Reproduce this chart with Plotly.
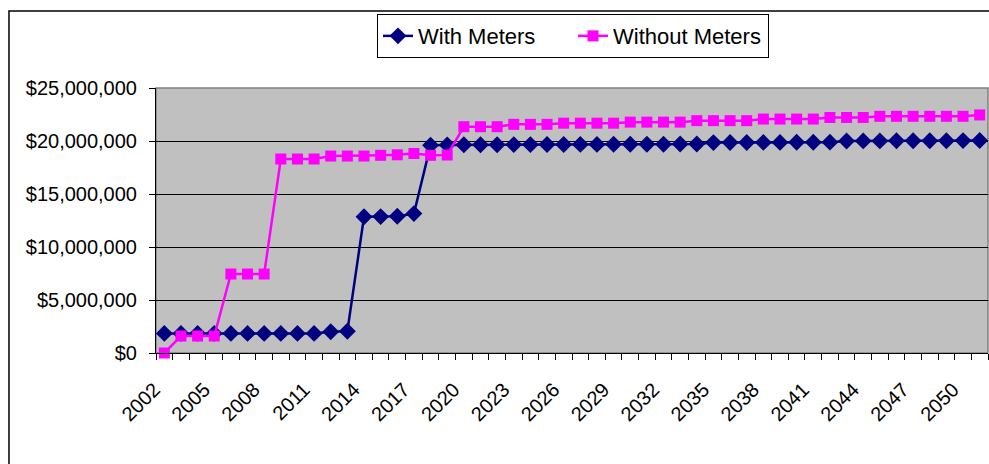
import plotly.graph_objects as go

years = list(range(2002, 2052))

with_meters = [
    1.85, 1.85, 1.85, 1.85, 1.85, 1.85, 1.85, 1.85, 1.85, 1.85,   # 2002-2011
    2.00, 2.05,                                                   # 2012-2013
    12.85, 12.87, 12.90, 13.15,                                   # 2014-2017
    19.60, 19.62,                                                 # 2018-2019
    19.64, 19.65, 19.65, 19.66, 19.66, 19.67, 19.67, 19.68,       # 2020-2027
    19.68, 19.69, 19.69, 19.70, 19.70, 19.71, 19.72,              # 2028-2034
    19.85, 19.86, 19.86, 19.87, 19.87, 19.88, 19.88, 19.89,       # 2035-2042
    20.00, 20.01, 20.01, 20.02, 20.02, 20.03, 20.03, 20.04, 20.05 # 2043-2051
]

without_meters = [
    0.00,                                                         # 2002
    1.60, 1.60, 1.60,                                             # 2003-2005
    7.45, 7.45, 7.45,                                             # 2006-2008
    18.30, 18.30, 18.30,                                          # 2009-2011
    18.58, 18.58, 18.58,                                          # 2012-2014
    18.65, 18.70, 18.82,                                          # 2015-2017
    18.65, 18.68,                                                 # 2018-2019
    21.35, 21.35, 21.35,                                          # 2020-2022
    21.57, 21.57, 21.57,                                          # 2023-2025
    21.68, 21.68, 21.68, 21.68,                                   # 2026-2029
    21.78, 21.78, 21.78, 21.78,                                   # 2030-2033
    21.92, 21.92, 21.92, 21.92,                                   # 2034-2037
    22.07, 22.07, 22.07, 22.07,                                   # 2038-2041
    22.22, 22.22, 22.22,                                          # 2042-2044
    22.33, 22.33, 22.33, 22.33, 22.33, 22.33,                     # 2045-2050
    22.46                                                         # 2051
]

tick_years = years[::3]
tick_labels = [str(y) for y in tick_years]
y_ticks = [0, 5e6, 10e6, 15e6, 20e6, 25e6]
y_labels = ["$0", "$5,000,000", "$10,000,000", "$15,000,000", "$20,000,000", "$25,000,000"]

FONT = "Arial, Liberation Sans, sans-serif"

fig = go.Figure()
fig.add_trace(go.Scatter(
    x=years, y=[v * 1e6 for v in with_meters], name="With Meters",
    mode="lines+markers", cliponaxis=False,
    line=dict(color="#000080", width=2.5),
    marker=dict(symbol="diamond", size=13, color="#000080"),
))
fig.add_trace(go.Scatter(
    x=years, y=[v * 1e6 for v in without_meters], name="Without Meters",
    mode="lines+markers", cliponaxis=False,
    line=dict(color="#FF00FF", width=2.5),
    marker=dict(symbol="square", size=11, color="#FF00FF"),
))

fig.update_layout(
    width=989, height=464,
    margin=dict(l=156, r=1, t=88, b=111, autoexpand=False),
    paper_bgcolor="white",
    plot_bgcolor="#C0C0C0",
    font=dict(family=FONT, size=20, color="black"),
    showlegend=True,
    legend=dict(
        orientation="h",
        x=0.2656, y=1.279, xanchor="left", yanchor="top",
        bgcolor="white", bordercolor="black", borderwidth=1,
        entrywidth=150, entrywidthmode="pixels",
        font=dict(family=FONT, size=22, color="black"),
    ),
    shapes=[
        dict(type="rect", xref="paper", yref="paper",
             x0=-0.1767, x1=1.05, y0=-0.5, y1=1.2906,
             line=dict(color="black", width=1.5), fillcolor="rgba(0,0,0,0)",
             layer="below"),
        dict(type="rect", xref="paper", yref="paper",
             x0=0, x1=1, y0=0, y1=1,
             line=dict(color="#808080", width=1.5), fillcolor="rgba(0,0,0,0)",
             layer="below"),
    ],
)

fig.update_xaxes(
    range=[2001.5, 2051.5], automargin=False,
    tickmode="array", tickvals=tick_years, ticktext=tick_labels,
    tickangle=-45,
    ticks="", showgrid=False, zeroline=False,
    showline=True, linecolor="black", linewidth=1,
    ticklabelstandoff=16, ticklabelshift=-10,
    minor=dict(tickmode="linear", tick0=2001.5, dtick=1, ticks="outside",
               ticklen=6, tickcolor="black", tickwidth=1, showgrid=False),
    tickfont=dict(family=FONT, size=20, color="black"),
)
fig.update_yaxes(
    range=[0, 25e6], automargin=False,
    tickmode="array", tickvals=y_ticks, ticktext=y_labels,
    ticks="outside", ticklen=6, tickcolor="black", tickwidth=1,
    showgrid=True, gridcolor="black", gridwidth=1,
    zeroline=False,
    showline=True, linecolor="black", linewidth=1,
    ticklabelstandoff=8,
    tickfont=dict(family=FONT, size=20, color="black"),
)

fig.write_html(
    "out.html",
    config={"displayModeBar": False},
    post_script="document.body.style.margin='0';document.body.style.overflow='hidden';",
)
